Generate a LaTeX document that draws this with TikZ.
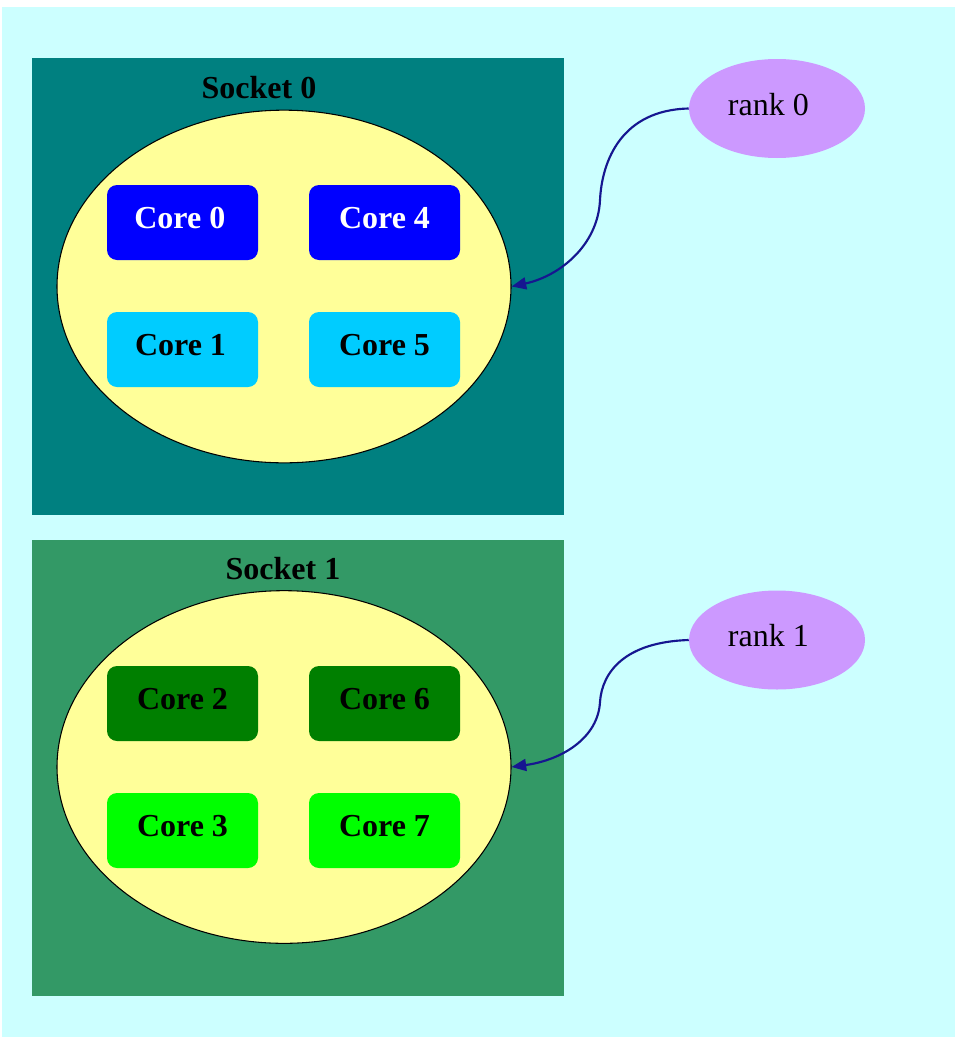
\documentclass[tikz,border=0pt]{standalone}
\usepackage{fontspec}
\setmainfont{Liberation Serif}
\usetikzlibrary{shapes.geometric,arrows.meta}
\definecolor{bgc}{HTML}{CCFFFF}
\definecolor{sockA}{HTML}{008080}
\definecolor{sockB}{HTML}{339966}
\definecolor{ellc}{HTML}{FFFF99}
\definecolor{coreA}{HTML}{0000FF}
\definecolor{coreB}{HTML}{00CCFF}
\definecolor{coreC}{HTML}{007F00}
\definecolor{coreD}{HTML}{00FF00}
\definecolor{rankc}{HTML}{CC99FF}
\definecolor{arrc}{HTML}{161690}
\begin{document}
\begin{tikzpicture}[x=0.75pt,y=-0.75pt,
  socketbox/.style={rectangle,inner sep=0pt,minimum width=399pt,minimum height=342.5pt},
  sockettext/.style={font=\fontsize{24}{28}\selectfont\bfseries,inner sep=0pt},
  numaell/.style={ellipse,draw=black,line width=0.8pt,fill=ellc,inner sep=0pt,minimum width=340.5pt,minimum height=264.5pt},
  corebox/.style={rectangle,rounded corners=7.5pt,inner sep=0pt,minimum width=113.25pt,minimum height=56.25pt,text height=16pt,text depth=7pt,font=\fontsize{24}{28}\selectfont\bfseries},
  rankell/.style={ellipse,fill=rankc,inner sep=0pt,minimum width=132pt,minimum height=74.25pt,text height=16pt,text depth=6pt,font=\fontsize{24}{28}\selectfont},
  bind/.style={draw=arrc,line width=1.6pt,-{Triangle[length=11pt,width=9pt]}}
]
\useasboundingbox (0,0) rectangle (955,1039);
\fill[white] (0,0) rectangle (955,1039);
\fill[bgc] (2,7) rectangle (955,1037);
% socket 0
\node[socketbox,fill=sockA] (s0) at (298,286.5) {};
\node[sockettext] (s0l) at (259,88) {Socket 0};
\node[numaell] (e0) at (284,286.5) {};
\node[corebox,fill=coreA,text=white] (core0) at (182.5,222.5) {Core 0\kern4pt};
\node[corebox,fill=coreA,text=white] (core4) at (384.5,222.5) {Core 4};
\node[corebox,fill=coreB] (core1) at (182.5,349.5) {Core 1\kern3pt};
\node[corebox,fill=coreB] (core5) at (384.5,349.5) {Core 5};
% socket 1
\node[socketbox,fill=sockB] (s1) at (298,768) {};
\node[sockettext] (s1l) at (283,569) {Socket 1};
\node[numaell] (e1) at (284,767) {};
\node[corebox,fill=coreC] (core2) at (182.5,703.5) {Core 2};
\node[corebox,fill=coreC] (core6) at (384.5,703.5) {Core 6};
\node[corebox,fill=coreD] (core3) at (182.5,830.5) {Core 3};
\node[corebox,fill=coreD] (core7) at (384.5,830.5) {Core 7};
% ranks
\node[rankell] (r0) at (777,108.5) {rank 0\kern13pt};
\node[rankell] (r1) at (777,640) {rank 1\kern13pt};
\coordinate (m0) at (600,200);
\coordinate (m1) at (600,702);
\draw[bind] (r0.west) .. controls (622,110) and (602,160) .. (m0) .. controls (598,245) and (560,276) .. (e0.east);
\draw[bind] (r1.west) .. controls (625,642) and (602,672) .. (m1) .. controls (598,738) and (562,760) .. (e1.east);
\end{tikzpicture}
\end{document}
